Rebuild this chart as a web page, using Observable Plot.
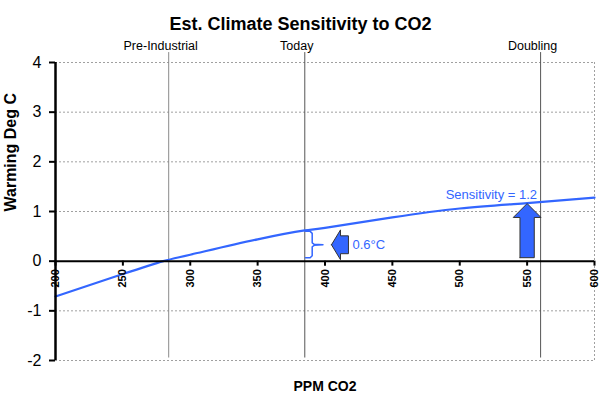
<!DOCTYPE html>
<html>
<head>
<meta charset="utf-8">
<script src="https://cdn.jsdelivr.net/npm/d3@7"></script>
<script src="https://cdn.jsdelivr.net/npm/@observablehq/plot@0.6"></script>
<style>
  body { margin: 0; background: white; }
  #chart svg { display: block; }
</style>
</head>
<body>
<div id="chart"></div>
<script>
// ---- data ----
const ppm     = [200, 250, 280, 300, 350, 385, 400, 450, 500, 550, 600];
const warming = [-0.71, -0.26, 0, 0.13, 0.44, 0.62, 0.67, 0.88, 1.06, 1.17, 1.28];
const xTicks = [200, 250, 300, 350, 400, 450, 500, 550, 600];
const yTicks = [-2, -1, 0, 1, 2, 3, 4];
const gridY  = [-2, -1, 1, 2, 3, 4];
const eventNames = ["Pre-Industrial", "Today", "Doubling"];
const eventPPM   = [284, 385, 560];
const eventColors = ["#8a8a8a", "#555555", "#555555"];
const sensitivityLabel = "Sensitivity = 1.2";
const deltaLabel = "0.6°C";
const title = "Est. Climate Sensitivity to CO2";
const xLabel = "PPM CO2";
const yLabel = "Warming Deg C";

// annotation anchors (data units)
const bigArrow   = {x: 550, y0: 0.07, tip: 1.16, headBase: 0.88, shaftHalf: 5.3, headHalf: 10.3};
const smallArrow = {tip: 404.8, y: 0.33, headBase: 411.5, end: 417.4, headTop: 0.63, headBot: 0.03, shaftTop: 0.51, shaftBot: 0.15};
const brace      = {x: 385.5, top: 0.60, bottom: 0.07, mid: 0.33, bend: 390.5, tipX: 398.5};

const curve = ppm.map((x, i) => ({x, y: warming[i]}));
const events = eventNames.map((name, i) => ({name, x: eventPPM[i], color: eventColors[i]}));

const bigArrowPts = (() => {
  const a = bigArrow;
  const pts = [
    [a.x - a.shaftHalf, a.y0], [a.x - a.shaftHalf, a.headBase], [a.x - a.headHalf, a.headBase],
    [a.x, a.tip], [a.x + a.headHalf, a.headBase], [a.x + a.shaftHalf, a.headBase],
    [a.x + a.shaftHalf, a.y0], [a.x - a.shaftHalf, a.y0]
  ];
  return pts.map(([x, y]) => ({x, y}));
})();
const smallArrowPts = (() => {
  const a = smallArrow;
  const pts = [
    [a.tip, a.y], [a.headBase, a.headTop], [a.headBase, a.shaftTop], [a.end, a.shaftTop],
    [a.end, a.shaftBot], [a.headBase, a.shaftBot], [a.headBase, a.headBot], [a.tip, a.y]
  ];
  return pts.map(([x, y]) => ({x, y}));
})();
const bracePts = (() => {
  const b = brace;
  const pts = [
    [b.x, b.top], [b.bend - 1.5, b.top], [b.bend, b.top - 0.04], [b.bend, b.mid + 0.04],
    [b.bend + 1.5, b.mid + 0.01], [b.tipX, b.mid], [b.bend + 1.5, b.mid - 0.01],
    [b.bend, b.mid - 0.04], [b.bend, b.bottom + 0.04], [b.bend - 1.5, b.bottom], [b.x, b.bottom]
  ];
  return pts.map(([x, y]) => ({x, y}));
})();

const blue = "#3366ff";

const chart = Plot.plot({
  width: 600,
  height: 399,
  marginLeft: 55,
  marginRight: 6,
  marginTop: 62,
  marginBottom: 39,
  style: {fontFamily: "'Liberation Sans', Arial, sans-serif", background: "white", color: "black"},
  x: {domain: [200, 600], axis: null},
  y: {domain: [-2, 4]},
  marks: [
    Plot.ruleY(gridY, {stroke: "#a0a0a0", strokeDasharray: "2,2", strokeWidth: 1}),
    Plot.ruleX([600], {stroke: "#a0a0a0", strokeDasharray: "2,2", strokeWidth: 1}),
    Plot.ruleX(events, {x: "x", y1: -1.95, y2: 4.2, stroke: "color", strokeWidth: 1}),
    Plot.text(events, {x: "x", y: 4.2, text: "name", lineAnchor: "bottom", dy: -3, dx: -8, fontSize: 12.5, fill: "black"}),
    Plot.line(curve, {x: "x", y: "y", stroke: blue, strokeWidth: 2.2, curve: "natural"}),
    Plot.line(bracePts, {x: "x", y: "y", stroke: blue, strokeWidth: 1.5}),
    Plot.line(bigArrowPts, {x: "x", y: "y", fill: blue, stroke: "#333", strokeWidth: 1}),
    Plot.line(smallArrowPts, {x: "x", y: "y", fill: blue, stroke: "#333", strokeWidth: 1}),
    Plot.text([sensitivityLabel], {x: 557.4, y: 1.33, textAnchor: "end", fill: blue, fontSize: 13}),
    Plot.text([deltaLabel], {x: 420.4, y: 0.33, textAnchor: "start", fill: blue, fontSize: 13}),
    Plot.ruleY([0], {stroke: "black", strokeWidth: 2}),
    Plot.ruleX([200], {stroke: "black", strokeWidth: 2.5}),
    Plot.ruleX(xTicks, {x: d => d, y1: 0, y2: -0.1, stroke: "black", strokeWidth: 2}),
    Plot.text(xTicks, {x: d => d, y: 0, text: d => String(d), rotate: -90, textAnchor: "end", dy: 8, fontWeight: "bold", fontSize: 11, fill: "black"}),
    Plot.axisY(yTicks, {tickSize: 6, tickPadding: 8, fontSize: 16, strokeWidth: 2, label: null, tickFormat: d => String(d)}),
    Plot.text([yLabel], {frameAnchor: "left", rotate: -90, dx: -45, fontSize: 16, fontWeight: "bold", fill: "black"}),
    Plot.text([xLabel], {frameAnchor: "bottom", dy: 30, fontSize: 14, fontWeight: "bold", fill: "black"}),
    Plot.text([title], {frameAnchor: "top", dy: -45, dx: -24.5, fontSize: 18, fontWeight: "bold", fill: "black"})
  ]
});
document.getElementById("chart").append(chart);
</script>
</body>
</html>
